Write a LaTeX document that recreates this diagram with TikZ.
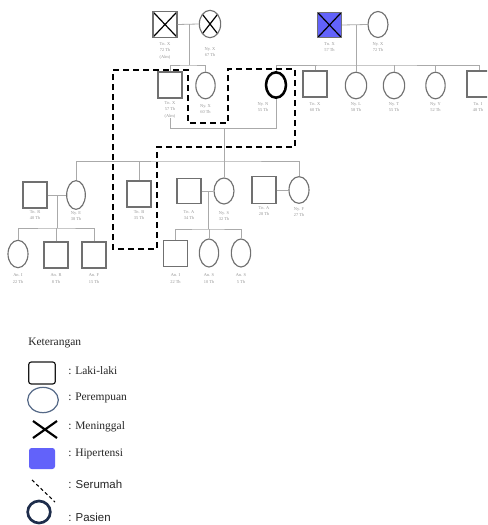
\documentclass[tikz,border=0pt]{standalone}
\usepackage{fontspec}
\setmainfont{Liberation Serif}
\newfontfamily\sansf{Liberation Sans}
\usetikzlibrary{shapes.geometric}
\definecolor{hyp}{RGB}{98,98,250}
\definecolor{symc}{RGB}{112,112,112}
\definecolor{linec}{RGB}{170,170,170}
\definecolor{labc}{RGB}{150,150,150}
\definecolor{femleg}{RGB}{85,105,135}
\definecolor{patleg}{RGB}{30,45,75}
\tikzset{
  sym/.style={draw=symc, line width=0.85pt, inner sep=0pt, fill=white},
  male/.style={sym, rectangle, minimum width=18pt, minimum height=19pt},
  fem/.style={sym, ellipse, minimum width=15pt, minimum height=20pt},
  dead/.style={path picture={\draw[black, line width=0.9pt]
     (path picture bounding box.north west) -- (path picture bounding box.south east)
     (path picture bounding box.north east) -- (path picture bounding box.south west);}},
  hypfill/.style={fill=hyp},
  patient/.style={draw=black, line width=1.9pt},
  lab/.style={font=\fontsize{3.3}{4.6}\selectfont, text=labc, align=center, inner sep=0pt},
  ln/.style={draw=linec, line width=0.6pt},
  serumah/.style={draw=black, line width=1.8pt, dash pattern=on 4.5pt off 3pt},
  legtxt/.style={anchor=west, inner sep=0pt, font=\fontsize{8.6}{10}\selectfont, text=black!85},
  legsans/.style={anchor=west, inner sep=0pt, font=\sansf\fontsize{8.6}{10}\selectfont, text=black!85},
}
\begin{document}
\begin{tikzpicture}[x=0.75pt,y=-0.75pt]
\useasboundingbox (0,0) rectangle (487,525);
\clip (0,0) rectangle (487,525);
\fill[white] (0,0) rectangle (487,525);

% ---------- connector junctions ----------
\coordinate (m1) at (189,24);
\coordinate (s1) at (189,65);
\coordinate (m2) at (356,25);
\coordinate (s2) at (356,65);
\coordinate (m3) at (224,128);
\coordinate (s3) at (224,161);
\coordinate (m4) at (57,195);
\coordinate (s4) at (57,228);
\coordinate (m5) at (208,191);
\coordinate (s5) at (208,229);

% ---------- Generation I ----------
\node[male, dead] (I1) at (165,24.5) {};
\node[fem, dead, minimum width=16pt, minimum height=20.5pt] (I2) at (210,24) {};
\node[male, dead, hypfill] (I3) at (329.5,25) {};
\node[fem, minimum height=19.5pt] (I4) at (378,24.5) {};
\node[lab] (I1l) at (165,51) {Tn. X\\72 Th\\(Alm)};
\node[lab] (I2l) at (210,52) {Ny. X\\67 Th};
\node[lab] (I3l) at (329.5,47) {Tn. X\\57 Th};
\node[lab] (I4l) at (378,47) {Ny. X\\72 Th};

% ---------- Generation II ----------
\node[male, minimum height=19.5pt] (II1) at (170,85) {};
\node[fem, minimum width=14.5pt] (II2) at (205.5,85.5) {};
\node[fem, patient, minimum height=19pt] (II3) at (276,85) {};
\node[male, minimum height=19.5pt] (II4) at (315,84) {};
\node[fem, minimum width=16pt] (II5) at (356,85.5) {};
\node[fem, minimum width=16pt] (II6) at (394,85.5) {};
\node[fem, minimum width=14.5pt] (II7) at (435.5,85.5) {};
\node[male, minimum height=19.5pt] (II8) at (479,84) {};
\node[lab] (II1l) at (170,110) {Tn. X\\57 Th\\(Alm)};
\node[lab] (II2l) at (205.5,109.5) {Ny. X\\60 Th};
\node[lab] (II3l) at (263,107) {Ny. N\\55 Th};
\node[lab] (II4l) at (315,107) {Tn. X\\60 Th};
\node[lab] (II5l) at (356,107.5) {Ny. L\\58 Th};
\node[lab] (II6l) at (394,107.5) {Ny. T\\55 Th};
\node[lab] (II7l) at (435.5,107.5) {Ny. Y\\52 Th};
\node[lab] (II8l) at (478,107) {Tn. I\\48 Th};

% ---------- Generation III ----------
\node[male, minimum height=19.5pt] (III1) at (35,195) {};
\node[fem, minimum width=14pt, minimum height=21.5pt] (III2) at (76,195) {};
\node[male, minimum height=19.5pt] (III3) at (139,194) {};
\node[male] (III4) at (189,191) {};
\node[fem, minimum height=19.5pt] (III5) at (224,191) {};
\node[male, minimum height=20pt] (III6) at (264,190) {};
\node[fem] (III7) at (299,190) {};
\node[lab] (III1l) at (35,215) {Tn. R\\40 Th};
\node[lab] (III2l) at (76,216) {Ny. E\\38 Th};
\node[lab] (III3l) at (139,215) {Tn. B\\35 Th};
\node[lab] (III4l) at (189,215) {Tn. A\\34 Th};
\node[lab] (III5l) at (224,216) {Ny. S\\32 Th};
\node[lab] (III6l) at (264,211) {Tn. A\\28 Th};
\node[lab] (III7l) at (299,212) {Ny. F\\27 Th};

% ---------- Generation IV ----------
\node[fem, minimum height=20.5pt] (IV1) at (18,254) {};
\node[male, minimum height=19.5pt] (IV2) at (56,255) {};
\node[male, minimum height=19.5pt] (IV3) at (94,255) {};
\node[male, minimum height=20pt] (IV4) at (175.5,253.5) {};
\node[fem, minimum width=14.5pt, minimum height=21pt] (IV5) at (209,253) {};
\node[fem, minimum width=14.5pt, minimum height=21pt] (IV6) at (241,253) {};
\node[lab] (IV1l) at (18,278.5) {An. I\\22 Th};
\node[lab] (IV2l) at (56,278.5) {An. R\\8 Th};
\node[lab] (IV3l) at (94,278.5) {An. F\\15 Th};
\node[lab] (IV4l) at (175.5,278.5) {An. I\\22 Th};
\node[lab] (IV5l) at (209,278.5) {An. S\\10 Th};
\node[lab] (IV6l) at (241,278.5) {An. S\\5 Th};

% ---------- connectors ----------
\draw[ln] (I1.east) -- (I2.west);
\draw[ln] (m1) -- (s1);
\draw[ln] (II1.north) |- (s1) -| (II2.north);
\draw[ln] (I3.east) -- (I4.west);
\draw[ln] (m2) -- (s2);
\draw[ln] (II3.north) |- (s2) -| (II8.north);
\draw[ln] (II4.north) -- (II4.north |- s2);
\draw[ln] (II5.north) -- (II5.north |- s2);
\draw[ln] (II6.north) -- (II6.north |- s2);
\draw[ln] (II7.north) -- (II7.north |- s2);

\draw[ln] (II1l.south) |- (m3);
\draw[ln] (II3.south) |- (m3);
\draw[ln] (m3) -- (s3);
\draw[ln] (III2.north) |- (s3) -| (III7.north);
\draw[ln] (III3.north) -- (III3.north |- s3);
\draw[ln] (III5.north) -- (III5.north |- s3);

\draw[ln] (III1.east) -- (III2.west);
\draw[ln] (m4) -- (s4);
\draw[ln] (IV1.north) |- (s4) -| (IV3.north);
\draw[ln] (IV2.north) -- (IV2.north |- s4);

\draw[ln] (III4.east) -- (III5.west);
\draw[ln] (m5) -- (s5);
\draw[ln] (IV4.north) |- (s5) -| (IV6.north);
\draw[ln] (IV5.north) -- (IV5.north |- s5);

\draw[ln] (III6.east) -- (III7.west);

% ---------- household (serumah) ----------
\draw[serumah] (113,70) -- (188,70) -- (188,123) -- (228,123) -- (228,69) -- (295,69)
  -- (295,147) -- (157,147) -- (157,249) -- (113,249) -- cycle;

% ---------- legend ----------
\node[legtxt] (ket) at (28,343) {Keterangan};
\node[draw=black!90, line width=0.9pt, rounded corners=2pt, minimum width=20pt, minimum height=16.5pt, inner sep=0pt] (lg1) at (42,373) {};
\node[legtxt] (lt1) at (68,371) {: Laki-laki};
\node[ellipse, draw=femleg, line width=0.9pt, minimum width=23pt, minimum height=19pt, inner sep=0pt] (lg2) at (43,400) {};
\node[legtxt] (lt2) at (68,398) {: Perempuan};
\draw[black, line width=1.6pt] (33,421) -- (57,438) (57,421) -- (33,438);
\node[legtxt] (lt3) at (68,427) {: Meninggal};
\node[fill=hyp, rounded corners=2pt, minimum width=19.5pt, minimum height=15.75pt, inner sep=0pt] (lg4) at (42,458.5) {};
\node[legtxt] (lt4) at (68,454) {: Hipertensi};
\draw[black, line width=0.8pt, dash pattern=on 2.5pt off 2pt] (32,480) -- (55,502);
\node[legsans] (lt5) at (68,484) {: Serumah};
\node[ellipse, draw=patleg, line width=2pt, minimum width=17pt, minimum height=16.5pt, inner sep=0pt] (lg6) at (39,512) {};
\node[legsans] (lt6) at (68,517) {: Pasien};
\end{tikzpicture}
\end{document}
